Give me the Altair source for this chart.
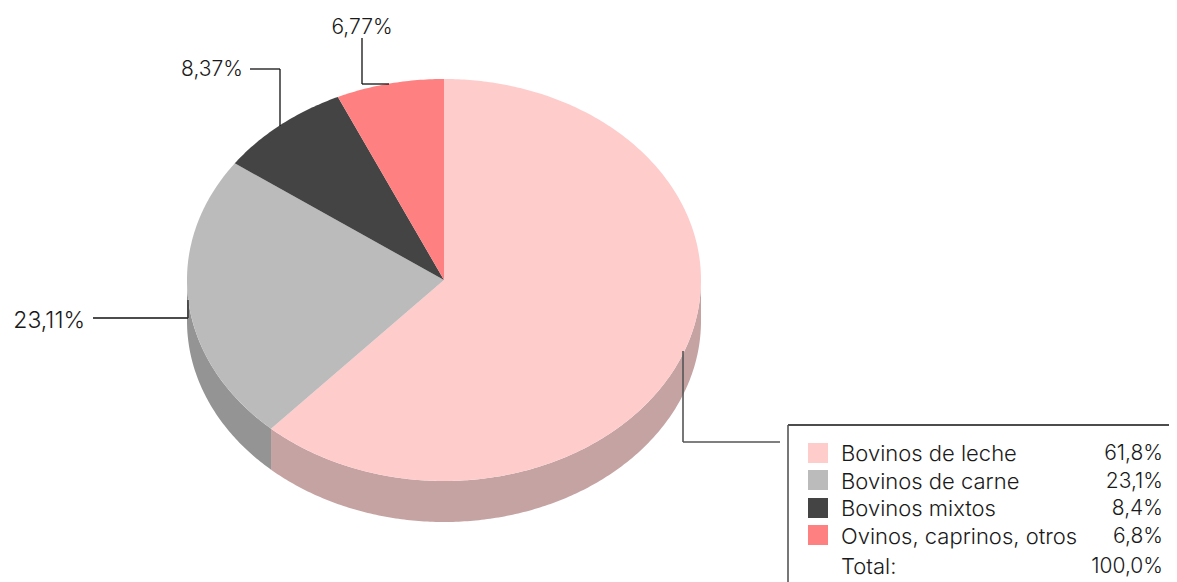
import numpy as np
import altair as alt
import pandas as pd

categories = ["Bovinos de leche", "Bovinos de carne", "Bovinos mixtos", "Ovinos, caprinos, otros"]
shares = [61.75, 23.11, 8.37, 6.77]
slice_labels = ["6,77%", "8,37%", "23,11%"]
legend_values = ["61,8%", "23,1%", "8,4%", "6,8%"]
total_label = "Total:"
total_value = "100,0%"
top_colors = ["#FFCCCC", "#BBBBBB", "#444444", "#FF8080"]
wall_colors = ["#C6A3A3", "#949494"]

FONT = "Inter"
OX, OY = 8, 8          # page margin
RX, RY, DEPTH = 257, 201, 41
CX, CY = 444, 280


def pt(t):
    return [RX * np.sin(t), -RY * np.cos(t)]


def arc(a, b):
    n = max(int(abs(b - a) * 90), 2)
    return [pt(t) for t in np.linspace(a, b, n)]


def feature(ring, key):
    ring = [[float(x), float(y)] for x, y in ring]
    ring.append(ring[0])
    return {"type": "Feature", "properties": {"key": key},
            "geometry": {"type": "Polygon", "coordinates": [ring]}}


edges = np.radians(np.concatenate([[0], np.cumsum(shares)]) * 3.6)
features = []
# side wall: only the front half of the ellipse is visible
for i in range(2):
    a, b = max(edges[i], np.pi / 2), min(edges[i + 1], 1.5 * np.pi)
    top = arc(a, b)
    low = [[x, y + DEPTH] for x, y in top][::-1]
    features.append(feature(top + low, "wall%d" % i))
for i, c in enumerate(categories):
    features.append(feature([[0, 0]] + arc(edges[i], edges[i + 1]), c))

domain = ["wall0", "wall1"] + categories
colors = wall_colors + top_colors

pie = (
    alt.Chart(alt.InlineData(values=features))
    .mark_geoshape(strokeWidth=0)
    .encode(color=alt.Color("properties.key:N", legend=None,
                            scale=alt.Scale(domain=domain, range=colors)))
    .project(type="identity", scale=1, translate=[CX - OX, CY - OY])
)

X = alt.X("x:Q", scale=None, axis=None)
Y = alt.Y("y:Q", scale=None, axis=None)
X2 = alt.X2("x2:Q")
Y2 = alt.Y2("y2:Q")


def seg(x, y, x2, y2, c, w):
    return dict(x=x - OX, y=y - OY, x2=x2 - OX, y2=y2 - OY, c=c, w=w)


segments = pd.DataFrame([
    seg(93, 318, 188, 318, "#111111", 1.3), seg(188, 300, 188, 318, "#333333", 1.5),
    seg(250, 69, 280, 69, "#111111", 1.3), seg(280, 69, 280, 126, "#111111", 1.3),
    seg(362, 38, 362, 84, "#111111", 1.3), seg(362, 84, 389, 84, "#111111", 1.3),
    seg(683, 351, 683, 442, "#555555", 1.6), seg(683, 442, 780, 442, "#555555", 1.6),
    seg(788, 425, 1177, 425, "#111111", 1.3), seg(788, 425, 788, 582, "#555555", 1.6),
])
rules = alt.Chart(segments).mark_rule().encode(
    x=X, y=Y, x2=X2, y2=Y2,
    color=alt.Color("c:N", scale=None),
    strokeWidth=alt.StrokeWidth("w:Q", scale=None),
)

swatch_tops = [443, 470, 498, 525]
swatches = alt.Chart(pd.DataFrame({
    "x": [808 - OX] * 4, "x2": [828 - OX] * 4,
    "y": [t - OY for t in swatch_tops], "y2": [t + 20 - OY for t in swatch_tops],
    "c": top_colors,
})).mark_rect().encode(x=X, x2=X2, y=Y, y2=Y2, color=alt.Color("c:N", scale=None))

left_rows = categories + [total_label]
right_rows = legend_values + [total_value]
row_y = [454, 482, 509, 537, 567]


def text_layer(rows, xs, ys, align, size):
    df = pd.DataFrame({"t": rows, "x": [v - OX for v in xs], "y": [v - OY for v in ys]})
    return alt.Chart(df).mark_text(align=align, baseline="middle", font=FONT, fontSize=size,
                                   fontWeight=300, color="#1a1a1a").encode(x=X, y=Y, text="t:N")


layers = [
    pie, rules, swatches,
    text_layer(left_rows, [841] * 5, row_y, "left", 22),
    text_layer(right_rows, [1163] * 5, row_y, "right", 21),
    text_layer(slice_labels[:1], [362], [28], "center", 21),
    text_layer(slice_labels[1:2], [243], [70], "right", 21),
    text_layer(slice_labels[2:], [85], [321], "right", 23),
]

chart = (
    alt.layer(*layers)
    .properties(width=1161, height=574, padding=0, autosize=alt.AutoSizeParams(type="none"),
                background="white")
    .configure_view(stroke=None)
)
chart.save("out.html", embed_options={"renderer": "svg", "actions": False})
